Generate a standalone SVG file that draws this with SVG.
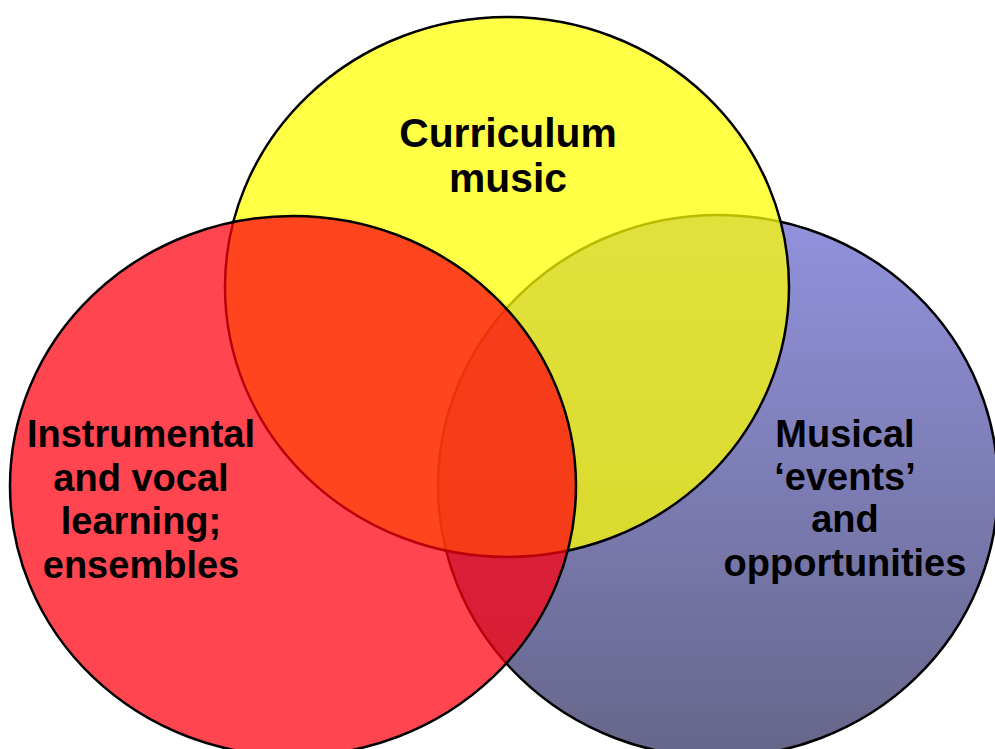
<svg xmlns="http://www.w3.org/2000/svg" width="995" height="749" viewBox="0 0 995 749">
  <defs>
    <linearGradient id="blueFill" x1="0" y1="0" x2="0" y2="1">
      <stop offset="0" stop-color="#9292DE"/>
      <stop offset="1" stop-color="#66668A"/>
    </linearGradient>
  </defs>
  <style>
    .ring { stroke: #000; stroke-width: 2.5; }
    .label { font-family: "Liberation Sans", Arial, sans-serif; font-weight: bold; fill: #000; text-anchor: middle; }
    .top { font-size: 40.8px; }
    .side { font-size: 38px; }
  </style>
  <rect width="995" height="749" fill="#fff"/>

  <!-- bottom layer: events and opportunities -->
  <g id="events">
    <ellipse class="ring" cx="718" cy="486" rx="280" ry="271" fill="url(#blueFill)"/>
  </g>

  <!-- middle layer: curriculum music -->
  <g id="curriculum">
    <ellipse class="ring" cx="507" cy="287" rx="282" ry="270" fill="#FFFF00" fill-opacity="0.73"/>
  </g>

  <!-- top layer: instrumental and vocal learning -->
  <g id="instrumental">
    <ellipse class="ring" cx="293" cy="486" rx="283" ry="270" fill="#FF000F" fill-opacity="0.73"/>
  </g>

  <g id="labels">
    <text class="label top" x="508" y="147">Curriculum</text>
    <text class="label top" x="508" y="192">music</text>

    <text class="label side" x="141" y="447">Instrumental</text>
    <text class="label side" x="141" y="491">and vocal</text>
    <text class="label side" x="141" y="534">learning;</text>
    <text class="label side" x="141" y="578">ensembles</text>

    <text class="label side" x="845" y="447">Musical</text>
    <text class="label side" x="845" y="490">‘events’</text>
    <text class="label side" x="845" y="532">and</text>
    <text class="label side" x="845" y="576">opportunities</text>
  </g>
</svg>
